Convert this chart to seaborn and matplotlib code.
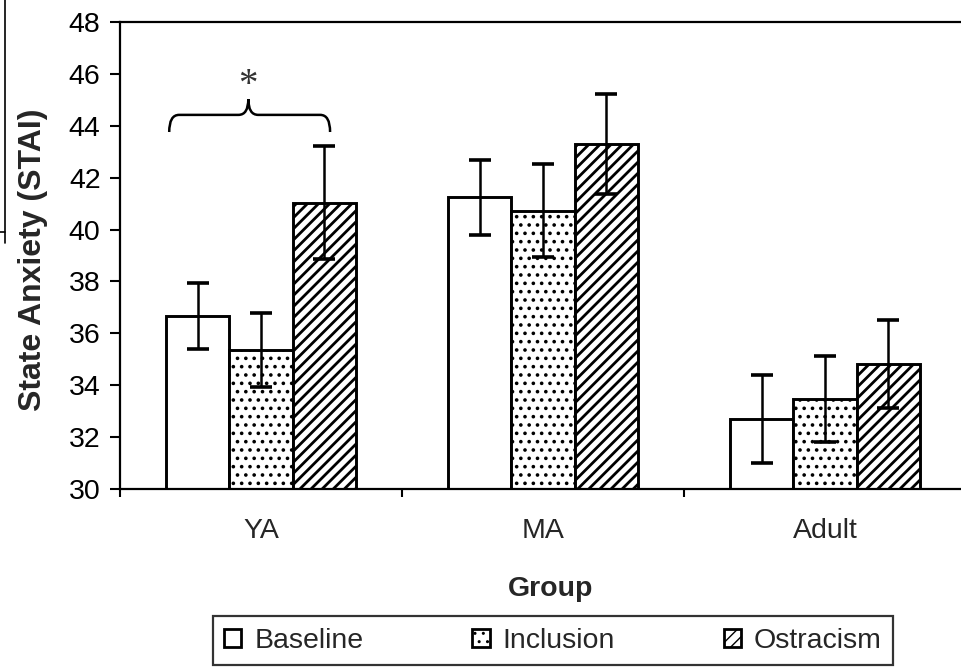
import matplotlib
matplotlib.use("Agg")
import matplotlib.pyplot as plt
from matplotlib.patches import Patch, PathPatch
from matplotlib.path import Path
from matplotlib.lines import Line2D
import seaborn as sns
import pandas as pd

# values
groups = ["YA", "MA", "Adult"]
conditions = ["Baseline", "Inclusion", "Ostracism"]
baseline_mean = [36.67, 41.24, 32.69]
inclusion_mean = [35.36, 40.73, 33.46]
ostracism_mean = [41.04, 43.30, 34.82]
baseline_se = [1.28, 1.45, 1.70]
inclusion_se = [1.42, 1.78, 1.66]
ostracism_se = [2.17, 1.93, 1.70]
y_ticks = [30, 32, 34, 36, 38, 40, 42, 44, 46, 48]

means = {"Baseline": baseline_mean, "Inclusion": inclusion_mean, "Ostracism": ostracism_mean}
ses = {"Baseline": baseline_se, "Inclusion": inclusion_se, "Ostracism": ostracism_se}
rows = []
for cond in conditions:
    for g, m, s in zip(groups, means[cond], ses[cond]):
        rows.append({"Group": g, "Condition": cond, "Mean": m, "SE": s})
df = pd.DataFrame(rows)

hatches = {"Baseline": "", "Inclusion": "..", "Ostracism": "///"}
hatch_lw = {"Baseline": 1.0, "Inclusion": 1.4, "Ostracism": 2.0}

sns.set_style("ticks")
plt.rcParams["font.family"] = ["Liberation Sans", "DejaVu Sans"]
plt.rcParams["hatch.color"] = "black"

fig = plt.figure(figsize=(9.61, 6.67), dpi=100)
ax = fig.add_axes([120 / 961, 178 / 667, 846 / 961, 467 / 667])

sns.barplot(data=df, x="Group", y="Mean", hue="Condition",
            order=groups, hue_order=conditions,
            palette={c: "white" for c in conditions},
            edgecolor="black", linewidth=2.1, width=0.675, gap=0,
            errorbar=None, legend=False, ax=ax)

for cond, cont in zip(conditions, ax.containers):
    xs = []
    for bar in cont:
        bar.set_hatch(hatches[cond])
        if hasattr(bar, "set_hatch_linewidth"):
            bar.set_hatch_linewidth(hatch_lw[cond])
        xs.append(bar.get_x() + bar.get_width() / 2)
    ax.errorbar(xs, means[cond], yerr=ses[cond], fmt="none", ecolor="black",
                elinewidth=1.8, capsize=8, capthick=2.6, zorder=3)

ax.set_ylim(30, 48)
ax.set_xlim(-0.5, 2.5)
ax.set_yticks(y_ticks)
ax.set_xticks([-0.5, 0.5, 1.5, 2.5])
ax.set_xticklabels([])
ax.set_xticks([0, 1, 2], minor=True)
ax.set_xticklabels(groups, minor=True, fontsize=20.5)
ax.tick_params(axis="x", which="minor", length=0, pad=21)
ax.tick_params(axis="x", which="major", length=6, width=1.5, direction="out")
ax.tick_params(axis="y", length=7, width=1.5, direction="out", pad=7, labelsize=20.5)
for side in ["left", "bottom", "top"]:
    ax.spines[side].set_linewidth(1.6)
    ax.spines[side].set_color("black")
ax.spines["right"].set_visible(False)
ax.tick_params(colors="black")

ax.set_xlabel("Group", fontsize=20.5, fontweight="bold")
ax.xaxis.set_label_coords(0.509, -0.186)
ax.set_ylabel("State Anxiety (STAI)", fontsize=23, fontweight="bold")
ax.yaxis.set_label_coords(-0.085, 0.49)

# significance brace over the YA group
base_bar = ax.containers[0][0]
ostr_bar = ax.containers[2][0]
bx0 = base_bar.get_x() + 0.012
bx1 = ostr_bar.get_x() + ostr_bar.get_width() / 2 + 0.02
bxc = base_bar.get_x() + (ostr_bar.get_x() + ostr_bar.get_width() - base_bar.get_x()) / 2 - 0.045
y_end, y_h, y_tip = 43.76, 44.42, 45.03
d = 0.035
verts = [(bx0, y_end), (bx0, y_h), (bx0 + d, y_h),
         (bxc - d, y_h), (bxc, y_h), (bxc, y_tip),
         (bxc, y_h), (bxc + d, y_h),
         (bx1 - d, y_h), (bx1, y_h), (bx1, y_end)]
codes = [Path.MOVETO, Path.CURVE3, Path.CURVE3,
         Path.LINETO, Path.CURVE3, Path.CURVE3,
         Path.CURVE3, Path.CURVE3,
         Path.LINETO, Path.CURVE3, Path.CURVE3]
ax.add_patch(PathPatch(Path(verts, codes), facecolor="none", edgecolor="black",
                       linewidth=1.8, zorder=3))
ax.text(bxc, 45.55, "*", ha="center", va="center", fontsize=28,
        family=["Liberation Serif", "DejaVu Serif"], color="#333333")

# legend
handles = [Patch(facecolor="white", edgecolor="black", hatch=hatches[c], linewidth=2.0)
           for c in conditions]
for h, c in zip(handles, conditions):
    if hasattr(h, "set_hatch_linewidth"):
        h.set_hatch_linewidth(hatch_lw[c])
leg = fig.legend(handles, conditions, loc="lower left", ncol=3, mode="expand",
                 bbox_to_anchor=(213 / 961, 2 / 667, 680 / 961, 47 / 667),
                 fontsize=20.5, frameon=True, fancybox=False, borderaxespad=0,
                 handlelength=0.6, handleheight=0.6, handletextpad=0.45,
                 borderpad=0.4)
leg.get_frame().set_edgecolor("black")
leg.get_frame().set_linewidth(1.6)

# edge of neighbouring panel visible at the left border
fig.add_artist(Line2D([5 / 961, 5 / 961], [1, (667 - 243) / 667],
                      transform=fig.transFigure, color="black", linewidth=1.2))
fig.add_artist(Line2D([0, 5 / 961], [(667 - 232) / 667] * 2,
                      transform=fig.transFigure, color="black", linewidth=1.2))

fig.savefig("out.png", dpi=100)
